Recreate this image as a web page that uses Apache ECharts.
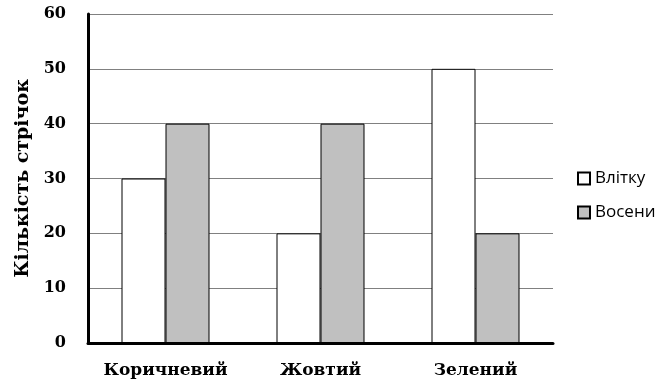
<!DOCTYPE html>
<html><head><meta charset="utf-8">
<script src="https://cdn.jsdelivr.net/npm/echarts@6/dist/echarts.min.js"></script>
<style>html,body{margin:0;padding:0;background:#fff}#c{width:665px;height:386px}</style>
</head><body><div id="c"></div>
<script>
var categories = ['Коричневий', 'Жовтий', 'Зелений'];
var summer = [30, 20, 50];
var autumn = [40, 40, 20];
var seriesNames = ['Влітку', 'Восени'];
var yTicks = [0, 10, 20, 30, 40, 50, 60];

var serif = 'DejaVu Serif';
var chart = echarts.init(document.getElementById('c'), null, {renderer: 'canvas'});
chart.setOption({
  animation: false,
  backgroundColor: '#fff',
  grid: {left: 88, right: 112, top: 14, bottom: 43},
  legend: {
    orient: 'vertical', left: 577, top: 170, padding: 0,
    itemWidth: 12, itemHeight: 12, itemGap: 17,
    icon: 'rect',
    textStyle: {fontFamily: 'Open Sans', fontSize: 17, lineHeight: 17, color: '#000'},
    data: seriesNames
  },
  xAxis: {
    type: 'category', data: categories,
    axisLine: {lineStyle: {color: '#000', width: 3}},
    axisTick: {show: false},
    axisLabel: {interval: 0, fontFamily: serif, fontWeight: 'bold', fontSize: 17, color: '#000', margin: 19}
  },
  yAxis: {
    type: 'value', min: yTicks[0], max: yTicks[yTicks.length-1], interval: 10,
    name: 'Кількість стрічок', nameLocation: 'middle', nameGap: 53,
    nameTextStyle: {fontFamily: serif, fontWeight: 'bold', fontSize: 19, color: '#000'},
    axisLine: {show: true, lineStyle: {color: '#000', width: 3}},
    axisTick: {show: false},
    axisLabel: {fontFamily: serif, fontWeight: 'bold', fontSize: 16, color: '#000', margin: 22},
    splitLine: {lineStyle: {color: '#808080', width: 1}}
  },
  series: [
    {name: seriesNames[0], type: 'bar', data: summer, barWidth: 44, barGap: '0%',
     itemStyle: {color: '#ffffff', borderColor: '#000', borderWidth: 1}},
    {name: seriesNames[1], type: 'bar', data: autumn, barWidth: 44, barGap: '0%',
     itemStyle: {color: '#c0c0c0', borderColor: '#000', borderWidth: 1}}
  ]
});
</script></body></html>
